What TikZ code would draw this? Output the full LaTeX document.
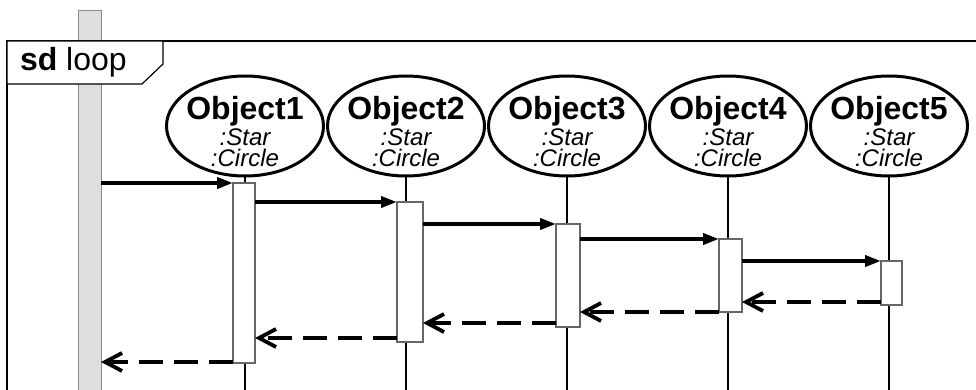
\documentclass[tikz,border=0pt]{standalone}
\usepackage{fontspec}
\setmainfont{Liberation Sans}
\usepackage{tikz}
\usetikzlibrary{shapes.geometric,arrows.meta,positioning,calc}

\begin{document}
\begin{tikzpicture}[x=0.5pt, y=-0.5pt,
    every node/.style={inner sep=0pt, outer sep=0pt},
    objhead/.style={ellipse, draw, line width=1.5pt, minimum width=78.5pt, minimum height=50pt},
    objname/.style={font=\fontsize{16}{18}\selectfont\bfseries, anchor=base},
    objtype/.style={font=\fontsize{12}{14}\selectfont\itshape, anchor=base},
    act/.style={rectangle, draw=black!60, fill=white, line width=0.6pt, anchor=north},
    call/.style={line width=1.9pt, -{Triangle[length=8pt,width=5.5pt]}},
    reply/.style={line width=1.9pt, dash pattern=on 12pt off 5.5pt, -{Straight Barb[length=8.5pt,width=9pt,line width=1.9pt]}}]
    \useasboundingbox (0,0) rectangle (976,390);
    \coordinate (floor) at (0,394);

    % actor bar on the left
    \node[rectangle, draw=black!45, fill=black!13, line width=0.5pt, anchor=north,
          minimum width=11.5pt, minimum height=192pt] (bar) at (89.5,11) {};

    % frame and its name tag
    \draw[line width=0.6pt] (7,394) -- (7,41) -- (980,41);
    \draw[line width=0.6pt, fill=white] (7,41) -- (163,41) -- (163,64) -- (142,84) -- (7,84) -- cycle;
    \node[anchor=base west, font=\fontsize{16}{18}\selectfont] (tag) at (20,71) {\textbf{sd} loop};

    % objects and lifelines
    \foreach \i/\x in {1/245,2/406,3/567,4/728,5/889} {
        \node[objhead] (h\i) at (\x,126) {};
        \node[objname] (n\i) at (\x,120) {Object\i};
        \node[objtype] (s\i) at (\x,145.5) {:Star};
        \node[objtype] (c\i) at (\x,167) {:Circle};
        \draw[line width=0.8pt] (h\i.south) -- (h\i.south |- floor);
    }

    % activations
    \foreach \i/\x/\t/\b/\w in {1/244/183/363/22, 2/410/202/342/26, 3/568/224/327/24,
                                4/730.5/239/312/23, 5/891.5/261/305/21} {
        \node[act, minimum width=\w*0.5pt, minimum height=(\b-\t)*0.5pt] (a\i) at (\x,\t) {};
    }

    % calls
    \draw[call] (bar.east |- a1.north) -- (a1.north west);
    \foreach \i/\j in {1/2,2/3,3/4,4/5}
        \draw[call] (a\i.east |- a\j.north) -- (a\j.north west);

    % returns
    \foreach \j/\i/\s in {5/4/1.5, 4/3/0, 3/2/2, 2/1/2} {
        \coordinate (r\j) at ([yshift=\s pt]a\j.south west);
        \draw[reply] (r\j) -- (r\j -| a\i.east);
    }
    \coordinate (r1) at ([yshift=0.5pt]a1.south west);
    \draw[reply] (r1) -- (r1 -| bar.east);
\end{tikzpicture}
\end{document}
